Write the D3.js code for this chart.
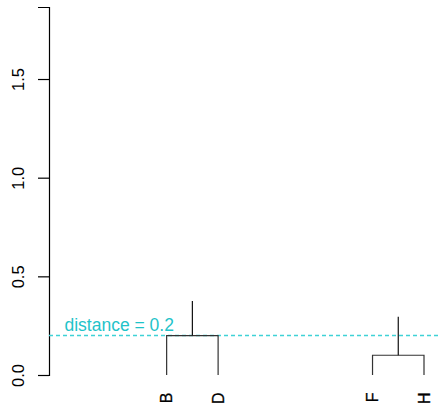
<!DOCTYPE html>
<html>
<head>
<meta charset="utf-8">
<script src="https://cdn.jsdelivr.net/npm/d3@7"></script>
<style>
  html, body { margin: 0; padding: 0; background: #fff; }
  svg { display: block; font-family: "Liberation Sans", Arial, Helvetica, sans-serif; }
</style>
</head>
<body>
<svg id="chart" width="438" height="404"></svg>
<script>
// Leaves shown in the tree, with their slot in the leaf order
const leafNames = ["B", "D", "F", "H"];
const leafSlots = [3, 4, 7, 8];

// Merges: which two leaves join, at what height, and how high the stem goes
const mergeLeft = ["B", "F"];
const mergeRight = ["D", "H"];
const mergeHeights = [0.2, 0.1];
const stemTops = [0.375, 0.295];

// Cut line and axis ticks
const cutHeight = 0.2;
const cutLabel = "distance = 0.2";
const yTicks = [0, 0.5, 1.0, 1.5];
const yTickLabels = ["0.0", "0.5", "1.0", "1.5"];
const yMax = 1.865;

const W = 438, H = 404;
const svg = d3.select("#chart");

const x = d3.scaleLinear().domain([1, 8]).range([63.7, 424]);
const y = d3.scaleLinear().domain([0, yMax]).range([375, 7]);

const slotOf = {};
leafNames.forEach((n, i) => slotOf[n] = leafSlots[i]);

// Y axis
const axisX = 49;
const axis = svg.append("g")
  .attr("transform", `translate(${axisX},0)`)
  .call(d3.axisLeft(y).tickValues(yTicks).tickFormat((d, i) => yTickLabels[i]).tickSizeOuter(0).tickSize(11));
axis.select(".domain").attr("stroke", "#000").attr("stroke-width", 1.2);
axis.selectAll(".tick line").attr("stroke", "#000").attr("stroke-width", 1.2);
axis.selectAll(".tick text")
  .attr("font-size", 16.5)
  .attr("fill", "#000")
  .attr("text-anchor", "middle")
  .attr("x", 0)
  .attr("y", 0)
  .attr("dy", 0)
  .attr("dx", 0)
  .attr("transform", "translate(-25,0) rotate(-90)");

// Cut line
svg.append("line")
  .attr("x1", axisX).attr("x2", W)
  .attr("y1", y(cutHeight)).attr("y2", y(cutHeight))
  .attr("stroke", "#3fd2d6").attr("stroke-width", 1.4)
  .attr("stroke-dasharray", "4,3");

svg.append("text")
  .attr("x", 64.5).attr("y", y(cutHeight) - 4.5)
  .attr("font-size", 17.5)
  .attr("fill", "#1fc3c9")
  .text(cutLabel);

// Dendrogram branches
const tree = svg.append("g").attr("fill", "none").attr("stroke", "#111").attr("stroke-width", 1.2);
mergeLeft.forEach((l, i) => {
  const r = mergeRight[i];
  const xl = x(slotOf[l]), xr = x(slotOf[r]);
  const hy = y(mergeHeights[i]);
  const mid = (xl + xr) / 2;
  tree.append("path")
    .attr("d", `M${xl},${y(0)}V${hy}H${xr}V${y(0)}`)
    .attr("stroke", "#333");
  tree.append("line")
    .attr("x1", mid).attr("x2", mid)
    .attr("y1", hy).attr("y2", y(stemTops[i]));
});

// Leaf labels, rotated
svg.append("g").selectAll("text")
  .data(leafNames)
  .join("text")
  .attr("transform", d => `translate(${x(slotOf[d]) + 5.5},392.5) rotate(-90)`)
  .attr("text-anchor", "end")
  .attr("font-size", 16)
  .attr("fill", "#000")
  .attr("stroke", "#000")
  .attr("stroke-width", 0.3)
  .text(d => d);
</script>
</body>
</html>
